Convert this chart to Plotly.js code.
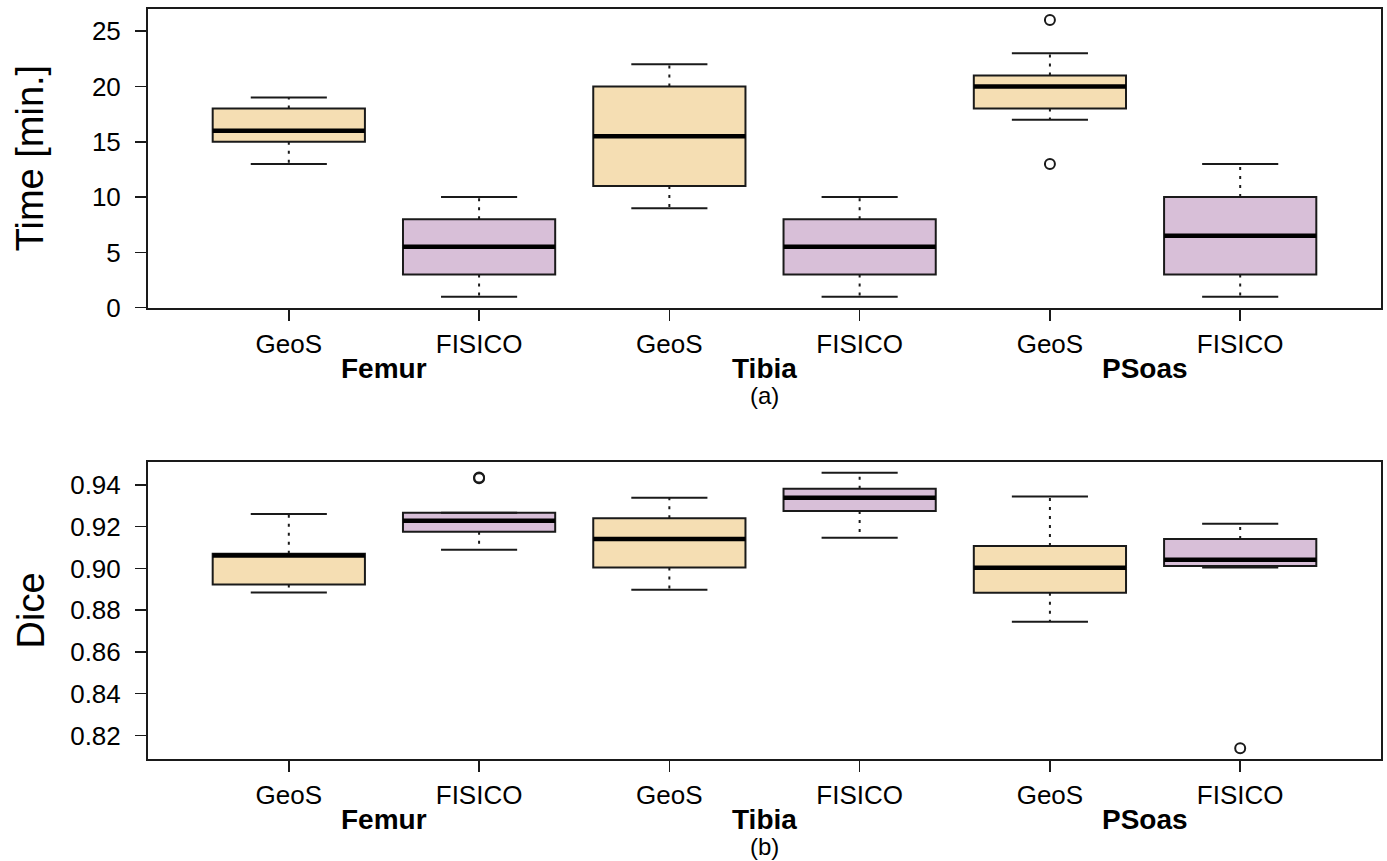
<!DOCTYPE html>
<html>
<head>
<meta charset="utf-8">
<script src="https://cdn.plot.ly/plotly-3.0.1.min.js"></script>
<style>html,body{margin:0;padding:0;background:#fff;}#chart{width:1387px;height:861px;}</style>
</head>
<body>
<div id="chart"></div>
<script>
// ---- data ----
const positions = [1, 2, 3, 4, 5, 6];
const methods = ['GeoS', 'FISICO', 'GeoS', 'FISICO', 'GeoS', 'FISICO'];
const structures = ['Femur', 'Tibia', 'PSoas'];
const panelLabels = ['(a)', '(b)'];
const yTitles = ['Time [min.]', 'Dice'];

// Panel (a): time in minutes
const timeLower  = [13, 1, 9, 1, 17, 1];
const timeQ1     = [15, 3, 11, 3, 18, 3];
const timeMedian = [16, 5.5, 15.5, 5.5, 20, 6.5];
const timeQ3     = [18, 8, 20, 8, 21, 10];
const timeUpper  = [19, 10, 22, 10, 23, 13];
const timeOutX   = [5, 5];
const timeOutY   = [26, 13];
const timeTicks  = [0, 5, 10, 15, 20, 25];

// Panel (b): Dice coefficient
const diceLower  = [0.8885, 0.9090, 0.8898, 0.9147, 0.8744, 0.9005];
const diceQ1     = [0.8923, 0.9176, 0.9005, 0.9275, 0.8883, 0.9012];
const diceMedian = [0.9062, 0.9229, 0.9141, 0.9339, 0.9003, 0.9042];
const diceQ3     = [0.9070, 0.9267, 0.9240, 0.9382, 0.9107, 0.9141];
const diceUpper  = [0.9261, 0.9267, 0.9339, 0.9458, 0.9345, 0.9214];
const diceOutX   = [2, 2, 6];
const diceOutY   = [0.9432, 0.9436, 0.8139];
const diceTicks  = [0.82, 0.84, 0.86, 0.88, 0.90, 0.92, 0.94];

// ---- style ----
const FONT = 'Liberation Sans, Arial, sans-serif';
const FILL = {GeoS: '#F5DEB3', FISICO: '#D8BFD8'};
const INK = '#1a1a1a';
const BOXW = 0.8, CAPW = 0.4;

function panelTraces(xa, ya, lo, q1, med, q3, hi, outX, outY) {
  const traces = [];
  // dotted whiskers
  const wx = [], wy = [];
  positions.forEach((p, i) => {
    wx.push(p, p, null, p, p, null);
    wy.push(q3[i], hi[i], null, q1[i], lo[i], null);
  });
  traces.push({type: 'scatter', mode: 'lines', x: wx, y: wy, xaxis: xa, yaxis: ya,
    line: {color: INK, width: 2, dash: '3px,6px'}, hoverinfo: 'skip'});
  // boxes per method
  ['GeoS', 'FISICO'].forEach(m => {
    const idx = positions.map((p, i) => i).filter(i => methods[i] === m);
    traces.push({type: 'box', xaxis: xa, yaxis: ya,
      x: idx.map(i => positions[i]),
      q1: idx.map(i => q1[i]), median: idx.map(i => med[i]), q3: idx.map(i => q3[i]),
      lowerfence: idx.map(i => q1[i]), upperfence: idx.map(i => q3[i]),
      width: BOXW, whiskerwidth: 0, fillcolor: FILL[m],
      line: {color: INK, width: 2}, boxpoints: false, hoverinfo: 'skip', name: m});
  });
  // thick medians and solid caps
  const mx = [], my = [], cx = [], cy = [];
  positions.forEach((p, i) => {
    mx.push(p - BOXW / 2, p + BOXW / 2, null);
    my.push(med[i], med[i], null);
    cx.push(p - CAPW / 2, p + CAPW / 2, null, p - CAPW / 2, p + CAPW / 2, null);
    cy.push(hi[i], hi[i], null, lo[i], lo[i], null);
  });
  traces.push({type: 'scatter', mode: 'lines', x: cx, y: cy, xaxis: xa, yaxis: ya,
    line: {color: INK, width: 2}, hoverinfo: 'skip'});
  traces.push({type: 'scatter', mode: 'lines', x: mx, y: my, xaxis: xa, yaxis: ya,
    line: {color: '#000', width: 4.5}, hoverinfo: 'skip'});
  traces.push({type: 'scatter', mode: 'markers', x: outX, y: outY, xaxis: xa, yaxis: ya,
    marker: {symbol: 'circle-open', size: 10, color: INK, line: {width: 2, color: INK}},
    hoverinfo: 'skip'});
  return traces;
}

const data = [].concat(
  panelTraces('x', 'y', timeLower, timeQ1, timeMedian, timeQ3, timeUpper, timeOutX, timeOutY),
  panelTraces('x2', 'y2', diceLower, diceQ1, diceMedian, diceQ3, diceUpper, diceOutX, diceOutY)
);

function xAxis(anchor) {
  return {anchor: anchor, domain: [0, 1], range: [0.26, 6.74],
    tickmode: 'array', tickvals: positions, ticktext: methods,
    ticks: 'outside', ticklen: 11, tickwidth: 1.5, tickcolor: INK,
    showline: true, linecolor: INK, linewidth: 2, mirror: true,
    showgrid: false, zeroline: false, ticklabelstandoff: 1,
    tickfont: {family: FONT, size: 26, color: '#000'}};
}
function yAxis(anchor, domain, range, ticks, fmt) {
  return {anchor: anchor, domain: domain, range: range,
    tickmode: 'array', tickvals: ticks, tickformat: fmt,
    ticks: 'outside', ticklen: 11, tickwidth: 1.5, tickcolor: INK,
    showline: true, linecolor: INK, linewidth: 2, mirror: true,
    showgrid: false, zeroline: false, ticklabelstandoff: 9,
    tickfont: {family: FONT, size: 26, color: '#000'}};
}

const annotations = [];
[['x', 'y domain'], ['x2', 'y2 domain']].forEach((refs, k) => {
  structures.forEach((s, j) => {
    annotations.push({xref: refs[0], yref: refs[1],
      x: (positions[2 * j] + positions[2 * j + 1]) / 2, y: 0,
      xanchor: 'center', yanchor: 'top', yshift: -44, showarrow: false, borderpad: 0,
      text: '<b>' + s + '</b>', font: {family: FONT, size: 28, color: '#000'}});
  });
  annotations.push({xref: refs[0], yref: refs[1],
    x: (positions[2] + positions[3]) / 2, y: 0,
    xanchor: 'center', yanchor: 'top', yshift: -73, showarrow: false, borderpad: 0,
    text: panelLabels[k], font: {family: FONT, size: 24, color: '#000'}});
  annotations.push({xref: 'paper', yref: refs[1], x: 0, y: 0.5,
    xanchor: 'center', yanchor: 'middle', xshift: -118, showarrow: false,
    textangle: -90, text: yTitles[k], font: {family: FONT, size: 38, color: '#000'}});
});

const layout = {
  width: 1387, height: 861,
  margin: {l: 148, r: 6, t: 9, b: 102},
  paper_bgcolor: '#fff', plot_bgcolor: '#fff',
  showlegend: false, boxmode: 'overlay',
  xaxis: xAxis('y'),
  yaxis: yAxis('x', [0.6017, 1], [0, 27], timeTicks, ''),
  xaxis2: xAxis('y2'),
  yaxis2: yAxis('x2', [0, 0.396], [0.8087, 0.951], diceTicks, '.2f'),
  annotations: annotations
};

Plotly.newPlot('chart', data, layout, {displayModeBar: false, staticPlot: true});
</script>
</body>
</html>
